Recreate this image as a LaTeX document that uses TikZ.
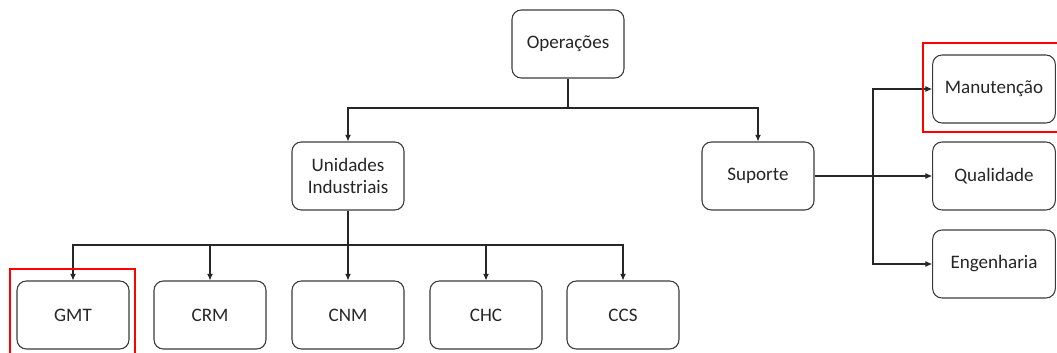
\documentclass[tikz,border=0pt]{standalone}
\usepackage{fontspec}
\setmainfont{Carlito}
\usetikzlibrary{arrows.meta,positioning}
\definecolor{edge}{HTML}{3A3A3A}
\definecolor{hlred}{HTML}{FF0000}

\begin{document}
\begin{tikzpicture}[
    x=0.75pt, y=-0.75pt,
    box/.style={draw=edge, rounded corners=7pt, align=center, minimum width=84pt, minimum height=51pt, line width=0.8pt, font=\fontsize{14.3}{17}\selectfont, text=black!85},
    widebox/.style={box, minimum width=92pt},
    arrow/.style={-{Latex[length=5pt,width=4.5pt]}, line width=0.8pt, draw=black!85},
    link/.style={line width=0.8pt, draw=black!85},
    hl/.style={draw=hlred, line width=2pt}
]
\useasboundingbox (0,0) rectangle (1057,353);
% top level
\node[box] (ops) at (568,44) {Operações};
\node[box] (ui) at (348,176) {Unidades\\Industriais};
\node[box] (sup) at (758,176) {Suporte};
% plants
\node[box] (gmt) at (73,315) {GMT};
\node[box] (crm) at (210,315) {CRM};
\node[box] (cnm) at (348,315) {CNM};
\node[box] (chc) at (486,315) {CHC};
\node[box] (ccs) at (623,315) {CCS};
% support areas
\node[widebox] (man) at (994,89) {Manutenção};
\node[widebox] (qua) at (994,176) {Qualidade};
\node[widebox] (eng) at (994,264) {Engenharia};
% junctions
\coordinate (jtop) at (568,108);
\coordinate (jbot) at (348,245);
\coordinate (jright) at (873,176);
\draw[link] (ops) -- (jtop);
\draw[arrow] (jtop) -| (ui);
\draw[arrow] (jtop) -| (sup);
\draw[link] (ui) -- (jbot);
\foreach \n in {gmt,crm,cnm,chc,ccs}
    \draw[arrow] (jbot) -| (\n.north);
\draw[link] (sup) -- (jright);
\foreach \n in {man,qua,eng}
    \draw[arrow] (jright) |- (\n.west);
% highlights
\draw[hl] (10,269) rectangle (135,362);
\draw[hl] (923,43) rectangle (1064,132);
\end{tikzpicture}
\end{document}
